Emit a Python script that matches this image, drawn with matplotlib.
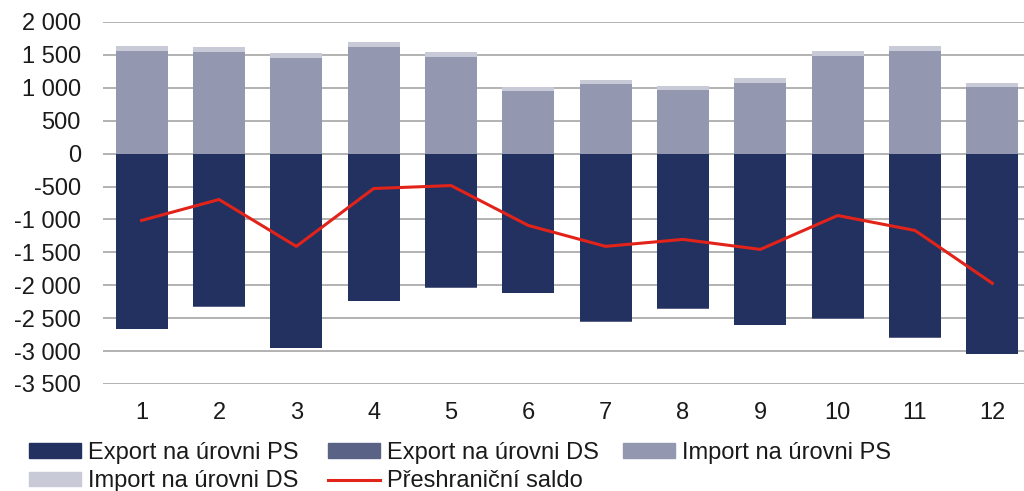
import matplotlib.pyplot as plt
import matplotlib.patches as mpatches
import matplotlib.lines as mlines
import matplotlib.ticker as mticker
import numpy as np

plt.rcParams['font.family'] = ['Liberation Sans', 'DejaVu Sans']

months = ['1', '2', '3', '4', '5', '6', '7', '8', '9', '10', '11', '12']
export_ps = [-2660, -2313, -2949, -2232, -2025, -2111, -2545, -2343, -2596, -2500, -2793, -3040]
export_ds = [-10, -10, -10, -10, -10, -10, -10, -10, -10, -10, -10, -10]
import_ps = [1560, 1545, 1459, 1621, 1474, 954, 1060, 970, 1075, 1490, 1565, 1010]
import_ds = [76, 76, 66, 71, 66, 66, 56, 60, 71, 65, 71, 70]
saldo = [-1015, -697, -1409, -530, -485, -1091, -1409, -1303, -1455, -940, -1167, -1970]

c_eps = '#233160'
c_eds = '#5a6285'
c_ips = '#9397b0'
c_ids = '#c8cad8'
c_line = '#e2231a'

fig = plt.figure(figsize=(10.24, 4.91), dpi=100)
ax = fig.add_axes([103 / 1024, 1 - 384 / 491, 928 / 1024, 362 / 491])

x = np.arange(len(months))
w = 0.67
ax.bar(x, export_ps, w, color=c_eps, zorder=2)
ax.bar(x, export_ds, w, bottom=export_ps, color=c_eds, zorder=2)
ax.bar(x, import_ps, w, color=c_ips, zorder=2)
ax.bar(x, import_ds, w, bottom=import_ps, color=c_ids, zorder=2)
ax.plot(x, saldo, color=c_line, lw=2.2, zorder=3)

ax.set_xlim(-0.5, len(months) - 0.5)
ax.set_ylim(-3500, 2000)
ax.yaxis.set_major_locator(mticker.MultipleLocator(500))
ax.yaxis.set_major_formatter(mticker.FuncFormatter(
    lambda v, p: '{:,.0f}'.format(v).replace(',', ' ')))
ax.set_xticks(x)
ax.set_xticklabels(months)
ax.tick_params(axis='both', length=0, labelsize=17, colors='#1a1a1a')
ax.tick_params(axis='x', pad=13)
ax.tick_params(axis='y', pad=16)
ax.grid(axis='y', color='#a6a6a6', lw=1.2, zorder=0)
for s in ax.spines.values():
    s.set_visible(False)

h_eps = mpatches.Patch(color=c_eps, label='Export na úrovni PS')
h_eds = mpatches.Patch(color=c_eds, label='Export na úrovni DS')
h_ips = mpatches.Patch(color=c_ips, label='Import na úrovni PS')
h_ids = mpatches.Patch(color=c_ids, label='Import na úrovni DS')
h_sal = mlines.Line2D([], [], color=c_line, lw=2.2, label='Přeshraniční saldo')

cols = [([h_eps, h_ids], 29), ([h_eds, h_sal], 328), ([h_ips], 623)]
for handles, px in cols:
    leg = fig.legend(handles=handles, loc='upper left',
                     bbox_to_anchor=(px / 1024, 1 - 442 / 491),
                     frameon=False, fontsize=17, borderpad=0,
                     handlelength=2.2, handleheight=0.58, handletextpad=0.3,
                     labelspacing=0.27, borderaxespad=0)
    for t in leg.get_texts():
        t.set_color('#1a1a1a')

fig.savefig('out.png', dpi=100)
